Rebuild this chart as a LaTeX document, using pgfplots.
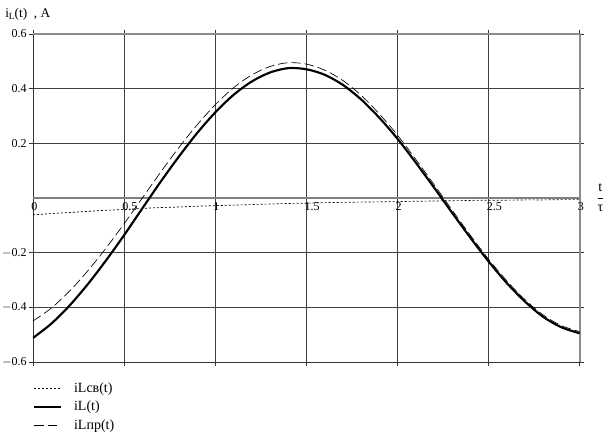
\documentclass[border=0pt]{standalone}
\usepackage{fontspec}
\setmainfont{Liberation Serif}
\usepackage{pgfplots}
\pgfplotsset{compat=1.18}

% t, iLsv (free), iL (total), iLpr (forced)
\pgfplotstableread{
t    sv      il      pr
0.0  -0.062  -0.512  -0.450
0.1  -0.057  -0.460  -0.403
0.2  -0.053  -0.394  -0.341
0.3  -0.049  -0.316  -0.267
0.4  -0.045  -0.229  -0.184
0.5  -0.042  -0.136  -0.094
0.6  -0.038  -0.038   0.000
0.7  -0.035   0.059   0.094
0.8  -0.033   0.151   0.184
0.9  -0.030   0.237   0.267
1.0  -0.028   0.313   0.341
1.1  -0.026   0.377   0.403
1.2  -0.024   0.426   0.450
1.3  -0.022   0.459   0.481
1.4  -0.020   0.475   0.495
1.5  -0.019   0.471   0.490
1.6  -0.017   0.451   0.468
1.7  -0.016   0.414   0.430
1.8  -0.015   0.361   0.376
1.9  -0.014   0.294   0.308
2.0  -0.013   0.217   0.230
2.1  -0.012   0.130   0.142
2.2  -0.011   0.039   0.050
2.3  -0.010  -0.054  -0.044
2.4  -0.009  -0.145  -0.136
2.5  -0.008  -0.232  -0.224
2.6  -0.008  -0.311  -0.303
2.7  -0.007  -0.379  -0.372
2.8  -0.007  -0.435  -0.428
2.9  -0.006  -0.473  -0.467
3.0  -0.006  -0.495  -0.489
}\curves

\begin{document}
\begin{tikzpicture}
\useasboundingbox (-24.75pt,-63.75pt) rectangle (437.25pt,271.5pt);
\begin{axis}[
  scale only axis,
  clip mode=individual,
  width=410pt, height=246pt,
  xmin=0, xmax=3, ymin=-0.6, ymax=0.6,
  xtick={0,0.5,...,3}, xticklabels={},
  ytick={-0.6,-0.4,-0.2,0.2,0.4,0.6},
  yticklabels={$-$0.6,$-$0.4,$-$0.2,0.2,0.4,0.6},
  yticklabel style={font=\fontsize{9}{10}\selectfont, inner sep=1.5pt},
  tick align=outside, major tick length=3pt,
  tick style={black!80, line width=0.5pt},
  grid=major,
  grid style={black!75, line width=0.5pt},
  axis line style={black!80, line width=0.5pt},
  legend style={at={(0,-0.045)}, anchor=north west, draw=none, fill=none,
    font=\fontsize{10.5}{12}\selectfont, row sep=1.2pt, inner xsep=0pt,
    cells={anchor=west}},
  legend cell align=left,
  legend image code/.code={\draw[#1] (0pt,0pt) -- (20pt,0pt);},
]
\draw[black!45, line width=1.3pt] (rel axis cs:0,1) -- (rel axis cs:1,1) -- (rel axis cs:1,0);
\draw[black!50, line width=1.4pt] (axis cs:0,0) -- (axis cs:3,0);
\addplot[black, line width=0.5pt, dash pattern=on 1.5pt off 1.5pt, smooth] table[x=t, y=sv] {\curves};
\addlegendentry{\hspace{7pt}iLсв(t)}
\addplot[black, line width=1.6pt, smooth] table[x=t, y=il] {\curves};
\addlegendentry{\hspace{7pt}iL(t)}
\addplot[black, line width=0.5pt, dash pattern=on 7pt off 3pt, smooth] table[x=t, y=pr] {\curves};
\addlegendentry{\hspace{7pt}iLпр(t)}
\pgfplotsinvokeforeach{0,0.5,1,1.5,2,2.5,3}{
  \node[anchor=north west, inner sep=0pt, xshift=-1.5pt, yshift=-3pt,
    font=\fontsize{9}{10}\selectfont] at (axis cs:#1,0) {#1};
}
\node[anchor=west, inner sep=0pt, font=\fontsize{10.5}{12}\selectfont]
  at (rel axis cs:1,0.5) [xshift=12pt] {$\displaystyle\frac{\hbox{t}}{\hbox{τ}}$};
\node[anchor=base west, inner sep=0pt, font=\fontsize{10}{11}\selectfont]
  at (rel axis cs:0,1) [xshift=-21pt, yshift=12.5pt] {i\raisebox{-0.3ex}{\scriptsize L}(t)\ \ , A};
\end{axis}
\end{tikzpicture}
\end{document}
